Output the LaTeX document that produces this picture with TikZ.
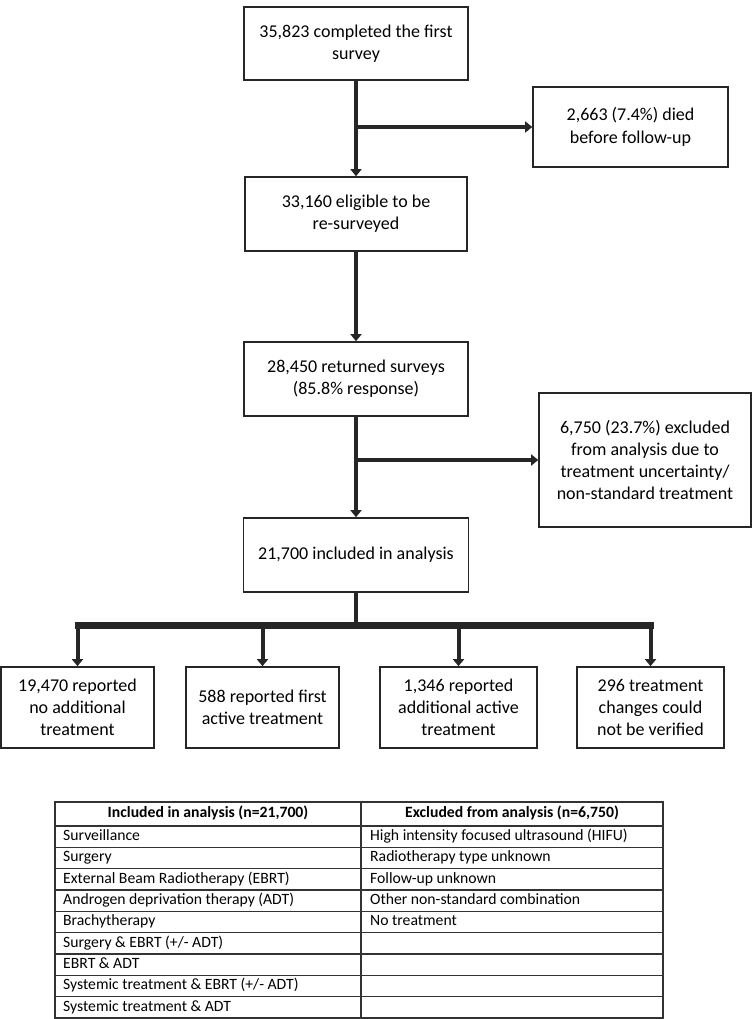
\documentclass[tikz,border=0pt]{standalone}
\usepackage{fontspec}
\setmainfont{Carlito}
\usetikzlibrary{arrows.meta}

\begin{document}
\begin{tikzpicture}[x=1pt, y=-1pt,
        box/.style={draw=black!85, line width=1.6pt, align=center, inner sep=0pt,
            font=\fontsize{18}{22.3}\selectfont},
        flow/.style={draw=black!85, line width=4pt, -{Triangle[length=7pt, width=11pt]}},
        bus/.style={draw=black!85, line width=7pt},
        grid/.style={draw=black!80, line width=1.3pt},
        cell/.style={anchor=west, inner sep=0pt, text height=11pt, text depth=3.5pt,
            font=\fontsize{15.7}{18}\selectfont},
        head/.style={cell, anchor=center, font=\bfseries\fontsize{15.7}{18}\selectfont}]
    \useasboundingbox (0,0) rectangle (752,1019);

    % main column
    \node[box, minimum width=224pt, minimum height=73pt] at (356,43.5) (first) {35,823 completed the first\\survey};
    \node[box, minimum width=195pt, minimum height=80pt] at (630.5,127) (died) {2,663 (7.4\%) died\\before follow-up};
    \node[box, minimum width=222pt, minimum height=74pt] at (356,214) (eligible) {33,160 eligible to be\\re-surveyed};
    \node[box, minimum width=224pt, minimum height=74pt] at (356,379) (returned) {28,450 returned surveys\\(85.8\% response)};
    \node[box, minimum width=212pt, minimum height=134pt] at (645,460) (excluded) {6,750 (23.7\%) excluded\\from analysis due to\\treatment uncertainty/\\non-standard treatment};
    \node[box, minimum width=225pt, minimum height=74pt] at (356,555) (included) {21,700 included in analysis};

    % outcomes
    \node[box, minimum width=153pt, minimum height=81pt] at (77.5,707.5) (noadd) {19,470 reported\\no additional\\treatment};
    \node[box, minimum width=153pt, minimum height=81pt] at (262.5,707.5) (firstact) {588 reported first\\active treatment};
    \node[box, minimum width=157pt, minimum height=81pt] at (458.5,707.5) (addact) {1,346 reported\\additional active\\treatment};
    \node[box, minimum width=147pt, minimum height=81pt] at (650.5,707.5) (unver) {296 treatment\\changes could\\not be verified};

    \coordinate (split1) at (first.south |- died.west);
    \coordinate (split2) at (returned.south |- excluded.west);
    \coordinate (hub) at (356,625);

    \draw[flow] (first) -- (eligible);
    \draw[flow] (split1) -- (died);
    \draw[flow] (eligible) -- (returned);
    \draw[flow] (returned) -- (included);
    \draw[flow] (split2) -- (excluded);

    \draw[draw=black!85, line width=4pt] (included.south) -- (hub);
    \draw[bus] ([xshift=-3pt]noadd.north |- hub) -- ([xshift=3pt]unver.north |- hub);
    \foreach \kid in {noadd, firstact, addact, unver}
        \draw[flow] (\kid.north |- hub) -- (\kid.north);

    % treatment table
    \draw[grid] (55,802) rectangle (663,1018);
    \draw[grid] (361,802) -- (361,1018);
    \foreach \i in {0,...,8}
        \draw[grid] (55,{826+21.33*\i}) -- (663,{826+21.33*\i});
    \node[head] at (208,814) (inclhead) {Included in analysis (n=21,700)};
    \node[head] at (512,814) (exclhead) {Excluded from analysis (n=6,750)};
    \foreach \inc/\exc [count=\i] in {Surveillance/High intensity focused ultrasound (HIFU),
            Surgery/Radiotherapy type unknown,
            External Beam Radiotherapy (EBRT)/Follow-up unknown,
            Androgen deprivation therapy (ADT)/Other non-standard combination,
            Brachytherapy/No treatment,
            {Surgery \& EBRT (+/- ADT)}/{},
            EBRT \& ADT/{},
            {Systemic treatment \& EBRT (+/- ADT)}/{},
            Systemic treatment \& ADT/{}} {
        \node[cell] at (63,{826+21.33*(\i-0.5)}) (incl\i) {\inc};
        \node[cell] at (370,{826+21.33*(\i-0.5)}) (excl\i) {\exc};
    }
\end{tikzpicture}
\end{document}
